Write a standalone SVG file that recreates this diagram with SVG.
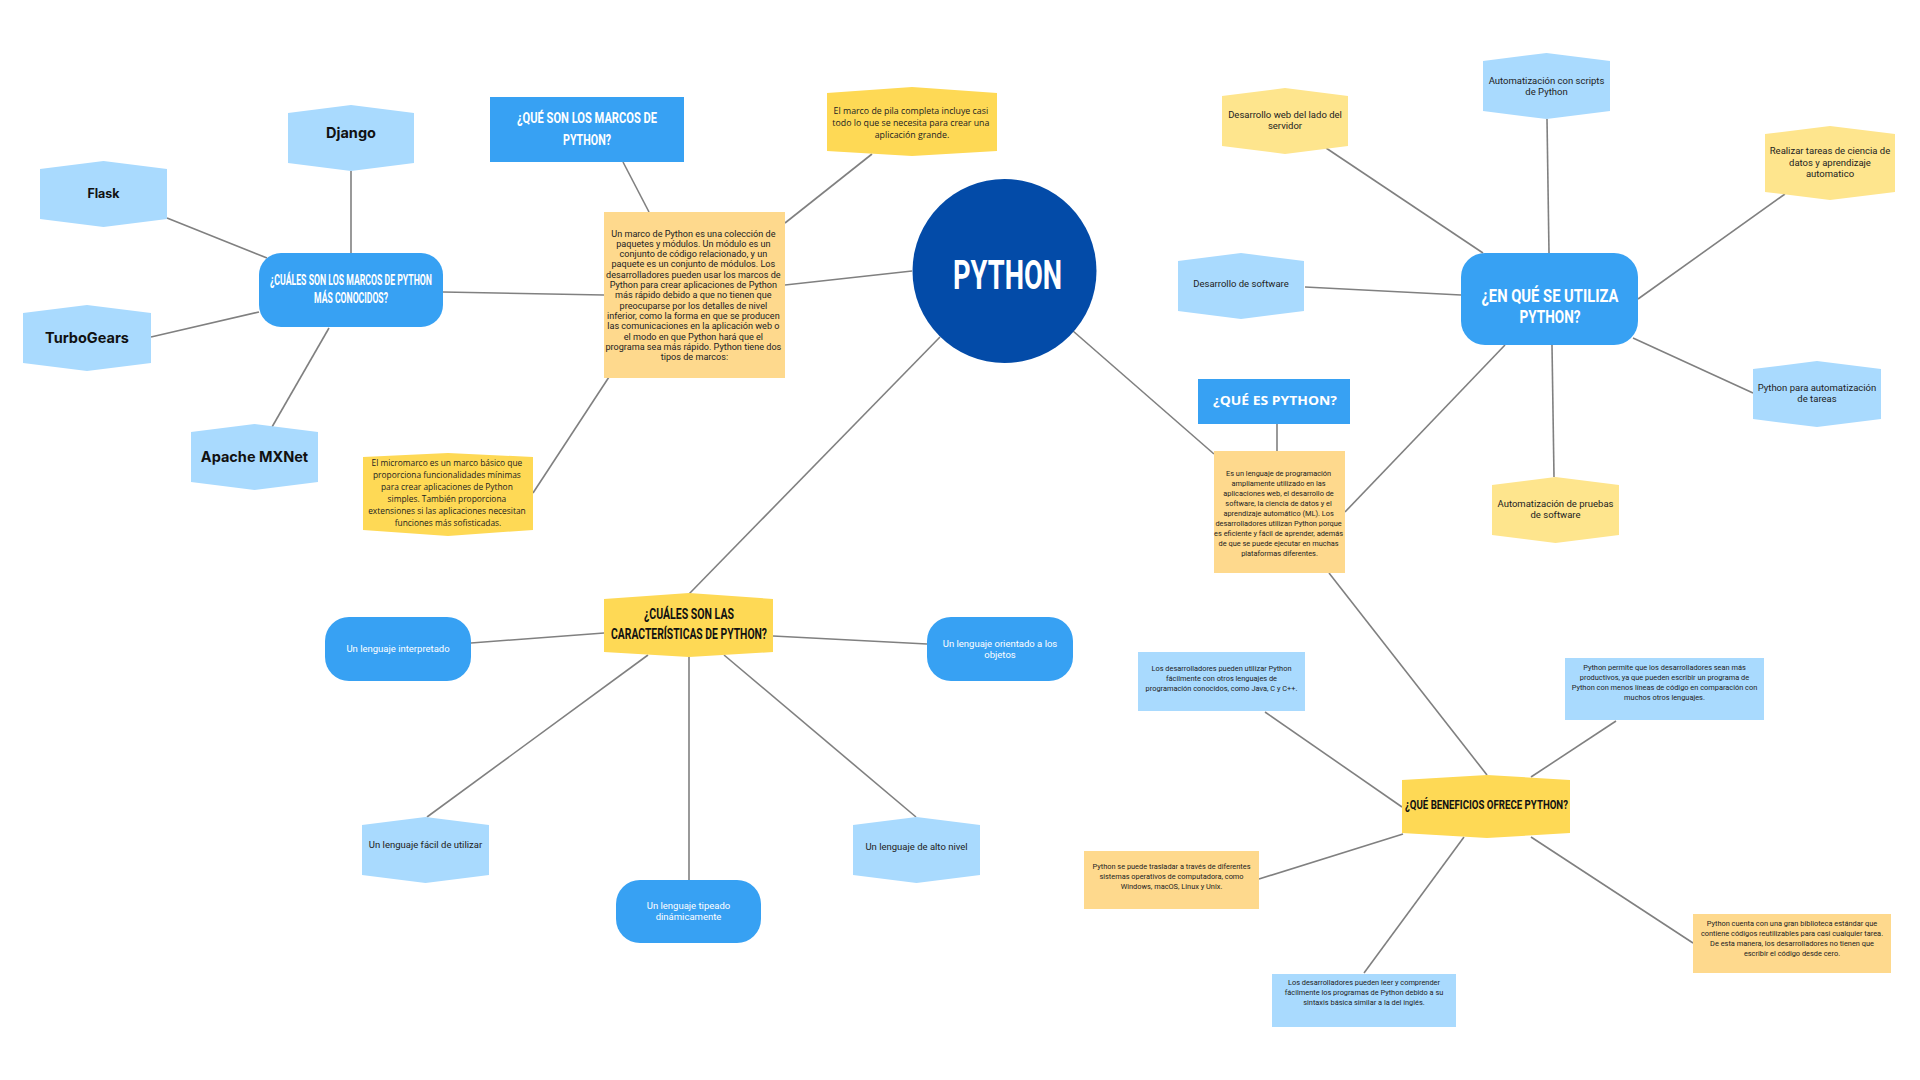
<svg xmlns="http://www.w3.org/2000/svg" width="1920" height="1080" viewBox="0 0 1920 1080">
<style>
.bg{fill:#ffffff}
.ln{stroke:#808080;stroke-width:1.6;fill:none}
.blue{fill:#37a1f3}
.dark{fill:#034ba8}
.lb{fill:#a9dafe}
.yel{fill:#fed955}
.ly{fill:#fee58d}
.or{fill:#fed98d}
.hd{font-family:Roboto,"Liberation Sans",sans-serif;font-weight:700;text-anchor:middle}
.nm{font-family:Inter,"Liberation Sans",sans-serif;font-weight:700;fill:#111111;text-anchor:middle}
.tx{font-family:Roboto,"Liberation Sans",sans-serif;fill:#222222;text-anchor:middle}
.os{font-family:"Open Sans","Noto Sans",sans-serif;fill:#222222;text-anchor:middle}
.w{fill:#ffffff}
.k{fill:#111111}
</style>
<rect class="bg" x="0" y="0" width="1920" height="1080"/>
<g id="connectors">
<line class="ln" x1="351" y1="171" x2="351" y2="253"/>
<line class="ln" x1="167" y1="218" x2="267" y2="258"/>
<line class="ln" x1="151" y1="337" x2="259" y2="312"/>
<line class="ln" x1="272" y1="427" x2="329" y2="328"/>
<line class="ln" x1="443" y1="292" x2="604" y2="295"/>
<line class="ln" x1="623" y1="162" x2="649" y2="212"/>
<line class="ln" x1="785" y1="223" x2="872" y2="154"/>
<line class="ln" x1="785" y1="285" x2="912" y2="271"/>
<line class="ln" x1="609" y1="377" x2="533" y2="493"/>
<line class="ln" x1="940" y1="337" x2="689" y2="594"/>
<line class="ln" x1="604" y1="633" x2="471" y2="643"/>
<line class="ln" x1="773" y1="636" x2="927" y2="644"/>
<line class="ln" x1="648" y1="655" x2="427" y2="817"/>
<line class="ln" x1="689" y1="657" x2="689" y2="880"/>
<line class="ln" x1="724" y1="655" x2="916" y2="817"/>
<line class="ln" x1="1073" y1="331" x2="1214" y2="454"/>
<line class="ln" x1="1277" y1="424" x2="1277" y2="451"/>
<line class="ln" x1="1345" y1="512" x2="1505" y2="345"/>
<line class="ln" x1="1483" y1="253" x2="1326" y2="148"/>
<line class="ln" x1="1549" y1="253" x2="1547" y2="119"/>
<line class="ln" x1="1638" y1="299" x2="1785" y2="194"/>
<line class="ln" x1="1461" y1="295" x2="1305" y2="287"/>
<line class="ln" x1="1633" y1="338" x2="1753" y2="393"/>
<line class="ln" x1="1552" y1="345" x2="1554" y2="477"/>
<line class="ln" x1="1329" y1="573" x2="1487" y2="775"/>
<line class="ln" x1="1265" y1="712" x2="1402" y2="807"/>
<line class="ln" x1="1616" y1="721" x2="1531" y2="777"/>
<line class="ln" x1="1403" y1="834" x2="1259" y2="879"/>
<line class="ln" x1="1464" y1="837" x2="1364" y2="973"/>
<line class="ln" x1="1531" y1="837" x2="1693" y2="943"/>
</g>

<g id="django"><polygon class="lb" points="288,113 351,105 414,113 414,163 351,171 288,163"/><text class="nm" x="351" y="138" font-size="14.5">Django</text></g>
<g id="flask"><polygon class="lb" points="40,169 103.5,161 167,169 167,219 103.5,227 40,219"/><text class="nm" x="103.5" y="198" font-size="12.5">Flask</text></g>
<g id="turbogears"><polygon class="lb" points="23,313 87,305 151,313 151,363 87,371 23,363"/><text class="nm" x="87" y="343" font-size="14.5">TurboGears</text></g>
<g id="mxnet"><polygon class="lb" points="191,432 254.5,424 318,432 318,482 254.5,490 191,482"/><text class="nm" x="254.5" y="462" font-size="14.5">Apache MXNet</text></g>
<g id="marcos-conocidos"><rect class="blue" x="259" y="253" width="184" height="74" rx="22"/>
<text class="hd w" font-size="15" x="351" y="285" textLength="162" lengthAdjust="spacingAndGlyphs">¿CUÁLES SON LOS MARCOS DE PYTHON</text>
<text class="hd w" font-size="15" x="351" y="303" textLength="74" lengthAdjust="spacingAndGlyphs">MÁS CONOCIDOS?</text></g>

<g id="que-son-marcos"><rect class="blue" x="490" y="97" width="194" height="65"/>
<text class="hd w" font-size="14" x="587" y="123" textLength="140" lengthAdjust="spacingAndGlyphs">¿QUÉ SON LOS MARCOS DE</text>
<text class="hd w" font-size="14" x="587" y="145" textLength="48" lengthAdjust="spacingAndGlyphs">PYTHON?</text></g>

<g id="marco-def"><rect class="or" x="604" y="212" width="181" height="166"/>
<text class="tx" font-size="9.1">
<tspan x="694.5" y="236.5">Un marco de Python es una colección de</tspan>
<tspan x="694.5" y="246.8">paquetes y módulos. Un módulo es un</tspan>
<tspan x="694.5" y="257.1">conjunto de código relacionado, y un</tspan>
<tspan x="694.5" y="267.4">paquete es un conjunto de módulos. Los</tspan>
<tspan x="694.5" y="277.7">desarrolladores pueden usar los marcos de</tspan>
<tspan x="694.5" y="288">Python para crear aplicaciones de Python</tspan>
<tspan x="694.5" y="298.3">más rápido debido a que no tienen que</tspan>
<tspan x="694.5" y="308.6">preocuparse por los detalles de nivel</tspan>
<tspan x="694.5" y="318.9">inferior, como la forma en que se producen</tspan>
<tspan x="694.5" y="329.2">las comunicaciones en la aplicación web o</tspan>
<tspan x="694.5" y="339.5">el modo en que Python hará que el</tspan>
<tspan x="694.5" y="349.8">programa sea más rápido. Python tiene dos</tspan>
<tspan x="694.5" y="360.1">tipos de marcos:</tspan>
</text></g>

<g id="pila-completa"><polygon class="yel" points="827,93 912,87 997,93 997,151 912,156 827,151"/>
<text class="os" font-size="8.8">
<tspan x="912" y="113.5">El marco de pila completa incluye casi</tspan>
<tspan x="912" y="125.5">todo lo que se necesita para crear una</tspan>
<tspan x="912" y="137.5">aplicación grande.</tspan>
</text></g>

<g id="micromarco"><polygon class="yel" points="363,457 448,453 533,457 533,530 448,536 363,530"/>
<text class="os" font-size="8.4">
<tspan x="448" y="465.5">El micromarco es un marco básico que</tspan>
<tspan x="448" y="477.5">proporciona funcionalidades mínimas</tspan>
<tspan x="448" y="489.5">para crear aplicaciones de Python</tspan>
<tspan x="448" y="501.5">simples. También proporciona</tspan>
<tspan x="448" y="513.5">extensiones si las aplicaciones necesitan</tspan>
<tspan x="448" y="525.5">funciones más sofisticadas.</tspan>
</text></g>

<g id="python"><circle class="dark" cx="1004.5" cy="271" r="92"/>
<text class="hd w" font-size="40" x="1007.5" y="289" textLength="109" lengthAdjust="spacingAndGlyphs">PYTHON</text></g>

<g id="caracteristicas"><polygon class="yel" points="604,599 689,593 773,599 773,652 689,657 604,652"/>
<text class="hd k" font-size="14" x="689" y="619" textLength="90" lengthAdjust="spacingAndGlyphs">¿CUÁLES SON LAS</text>
<text class="hd k" font-size="14" x="689" y="639" textLength="156" lengthAdjust="spacingAndGlyphs">CARACTERÍSTICAS DE PYTHON?</text></g>

<g id="interpretado"><rect class="blue" x="325" y="617" width="146" height="64" rx="24"/>
<text class="tx w" font-size="9.5" x="398" y="652">Un lenguaje interpretado</text></g>
<g id="orientado"><rect class="blue" x="927" y="617" width="146" height="64" rx="24"/>
<text class="tx w" font-size="9.5"><tspan x="1000" y="647">Un lenguaje orientado a los</tspan><tspan x="1000" y="658">objetos</tspan></text></g>
<g id="facil"><polygon class="lb" points="362,825 425.5,817 489,825 489,875 425.5,883 362,875"/>
<text class="tx" font-size="9.5" x="425.5" y="848">Un lenguaje fácil de utilizar</text></g>
<g id="alto-nivel"><polygon class="lb" points="853,825 916.5,817 980,825 980,875 916.5,883 853,875"/>
<text class="tx" font-size="9.5" x="916.5" y="850">Un lenguaje de alto nivel</text></g>
<g id="tipeado"><rect class="blue" x="616" y="880" width="145" height="63" rx="24"/>
<text class="tx w" font-size="9.5"><tspan x="688.5" y="909">Un lenguaje tipeado</tspan><tspan x="688.5" y="920">dinámicamente</tspan></text></g>

<g id="que-es-python"><rect class="blue" x="1198" y="379" width="152" height="45"/>
<text class="os w" font-weight="700" font-size="13" x="1275" y="405" textLength="124" lengthAdjust="spacingAndGlyphs">¿QUÉ ES PYTHON?</text></g>

<g id="python-def"><rect class="or" x="1214" y="451" width="131" height="122"/>
<text class="tx" font-size="7.4">
<tspan x="1279.5" y="475.5">Es un lenguaje de programación</tspan>
<tspan x="1279.5" y="485.5">ampliamente utilizado en las</tspan>
<tspan x="1279.5" y="495.5">aplicaciones web, el desarrollo de</tspan>
<tspan x="1279.5" y="505.5">software, la ciencia de datos y el</tspan>
<tspan x="1279.5" y="515.5">aprendizaje automático (ML). Los</tspan>
<tspan x="1279.5" y="525.5">desarrolladores utilizan Python porque</tspan>
<tspan x="1279.5" y="535.5">es eficiente y fácil de aprender, además</tspan>
<tspan x="1279.5" y="545.5">de que se puede ejecutar en muchas</tspan>
<tspan x="1279.5" y="555.5">plataformas diferentes.</tspan>
</text></g>

<g id="en-que-se-utiliza"><rect class="blue" x="1461" y="253" width="177" height="92" rx="24"/>
<text class="hd w" font-size="19" x="1550" y="302" textLength="137" lengthAdjust="spacingAndGlyphs">¿EN QUÉ SE UTILIZA</text>
<text class="hd w" font-size="19" x="1550" y="323" textLength="61" lengthAdjust="spacingAndGlyphs">PYTHON?</text></g>

<g id="scripts"><polygon class="lb" points="1483,61 1546.5,53 1610,61 1610,111 1546.5,119 1483,111"/>
<text class="tx" font-size="9.5"><tspan x="1546.5" y="84">Automatización con scripts</tspan><tspan x="1546.5" y="95">de Python</tspan></text></g>
<g id="web-servidor"><polygon class="ly" points="1222,96 1285,88 1348,96 1348,146 1285,154 1222,146"/>
<text class="tx" font-size="9.5"><tspan x="1285" y="118">Desarrollo web del lado del</tspan><tspan x="1285" y="129">servidor</tspan></text></g>
<g id="ciencia-datos"><polygon class="ly" points="1765,134 1830,126 1895,134 1895,192 1830,200 1765,192"/>
<text class="tx" font-size="9.5"><tspan x="1830" y="154">Realizar tareas de ciencia de</tspan><tspan x="1830" y="166">datos y aprendizaje</tspan><tspan x="1830" y="177">automatico</tspan></text></g>
<g id="desarrollo-software"><polygon class="lb" points="1178,261 1241,253 1304,261 1304,311 1241,319 1178,311"/>
<text class="tx" font-size="9.5" x="1241" y="287">Desarrollo de software</text></g>
<g id="automatizacion-tareas"><polygon class="lb" points="1753,369 1817,361 1881,369 1881,419 1817,427 1753,419"/>
<text class="tx" font-size="9.5"><tspan x="1817" y="391">Python para automatización</tspan><tspan x="1817" y="402">de tareas</tspan></text></g>
<g id="pruebas"><polygon class="ly" points="1492,485 1555.5,477 1619,485 1619,535 1555.5,543 1492,535"/>
<text class="tx" font-size="9.5"><tspan x="1555.5" y="507">Automatización de pruebas</tspan><tspan x="1555.5" y="518">de software</tspan></text></g>

<g id="beneficios"><polygon class="yel" points="1402,780 1487,775 1570,780 1570,833 1487,838 1402,833"/>
<text class="hd k" font-size="13" x="1486.5" y="809" textLength="163" lengthAdjust="spacingAndGlyphs">¿QUÉ BENEFICIOS OFRECE PYTHON?</text></g>

<g id="ben-lenguajes"><rect class="lb" x="1138" y="652" width="167" height="59"/>
<text class="tx" font-size="7.4"><tspan x="1221.5" y="670.5">Los desarrolladores pueden utilizar Python</tspan><tspan x="1221.5" y="680.5">fácilmente con otros lenguajes de</tspan><tspan x="1221.5" y="690.5">programación conocidos, como Java, C y C++.</tspan></text></g>
<g id="ben-productivos"><rect class="lb" x="1565" y="658" width="199" height="62"/>
<text class="tx" font-size="7.4"><tspan x="1664.5" y="669.5">Python permite que los desarrolladores sean más</tspan><tspan x="1664.5" y="679.5">productivos, ya que pueden escribir un programa de</tspan><tspan x="1664.5" y="689.5">Python con menos líneas de código en comparación con</tspan><tspan x="1664.5" y="699.5">muchos otros lenguajes.</tspan></text></g>
<g id="ben-portable"><rect class="or" x="1084" y="851" width="175" height="58"/>
<text class="tx" font-size="7.4"><tspan x="1171.5" y="868.5">Python se puede trasladar a través de diferentes</tspan><tspan x="1171.5" y="878.5">sistemas operativos de computadora, como</tspan><tspan x="1171.5" y="888.5">Windows, macOS, Linux y Unix.</tspan></text></g>
<g id="ben-sintaxis"><rect class="lb" x="1272" y="974" width="184" height="53"/>
<text class="tx" font-size="7.4"><tspan x="1364" y="984.5">Los desarrolladores pueden leer y comprender</tspan><tspan x="1364" y="994.5">fácilmente los programas de Python debido a su</tspan><tspan x="1364" y="1004.5">sintaxis básica similar a la del inglés.</tspan></text></g>
<g id="ben-biblioteca"><rect class="or" x="1693" y="914" width="198" height="59"/>
<text class="tx" font-size="7.4"><tspan x="1792" y="925.5">Python cuenta con una gran biblioteca estándar que</tspan><tspan x="1792" y="935.5">contiene códigos reutilizables para casi cualquier tarea.</tspan><tspan x="1792" y="945.5">De esta manera, los desarrolladores no tienen que</tspan><tspan x="1792" y="955.5">escribir el código desde cero.</tspan></text></g>
</svg>
